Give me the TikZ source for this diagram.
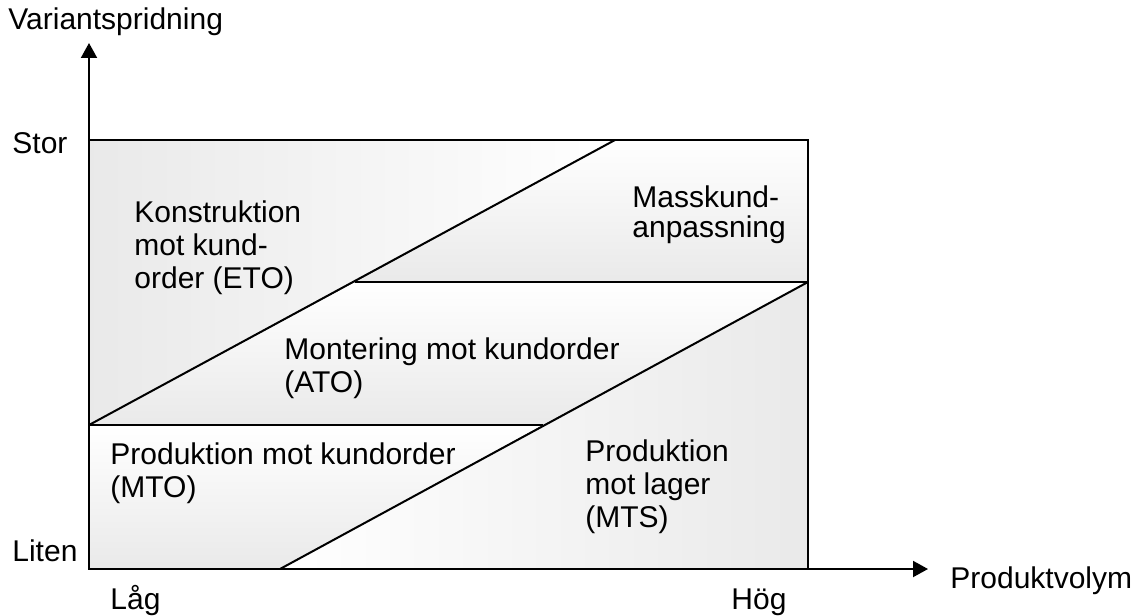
\documentclass[tikz,border=0pt]{standalone}
\usepackage{fontspec}
\setmainfont{Liberation Sans}
\usetikzlibrary{arrows.meta}

\begin{document}
\begin{tikzpicture}[x=0.5pt, y=-0.5pt,
  lbl/.style={anchor=base west, inner sep=0pt, align=left,
    font=\fontsize{15}{16.5}\selectfont},
  vshade/.style={top color=white, bottom color=gray!17},
  hshade/.style={left color=white, right color=gray!17},
  axisline/.style={line width=1pt, -{Triangle[length=7.5pt,width=8pt]}}]
  \useasboundingbox (0,0) rectangle (1133,615);
  % field corners and split points
  \coordinate (tl) at (89,140);  \coordinate (tr) at (808,140);
  \coordinate (bl) at (89,569);  \coordinate (br) at (808,569);
  \coordinate (d1top) at (615,140); \coordinate (d1low) at (89,425);
  \coordinate (h1left) at (355,282); \coordinate (h1right) at (808,282);
  \coordinate (h2right) at (543,425); \coordinate (d2low) at (280,569);
  % zones
  \fill[left color=gray!17, right color=white] (tl) -- (d1top) -- (d1low) -- cycle;
  \fill[vshade] (d1top) -- (tr) -- (h1right) -- (h1left) -- cycle;
  \fill[vshade] (d1low) -- (h1left) -- (h1right) -- (h2right) -- cycle;
  \fill[vshade] (d1low) -- (h2right) -- (d2low) -- (bl) -- cycle;
  \fill[hshade] (d2low) -- (h1right) -- (br) -- cycle;
  \draw[line width=1pt] (d1low) -- (d1top);
  \draw[line width=1pt] (d2low) -- (h1right);
  \draw[line width=1pt] (h1left) -- (h1right);
  \draw[line width=1pt] (d1low) -- (h2right);
  \draw[line width=1.4pt] (tl) rectangle (br);
  % axes
  \coordinate (ytip) at (89,43);
  \coordinate (xtip) at (928,569);
  \draw[axisline] (bl) -- (ytip);
  \draw[axisline] (bl) -- (xtip);
  \node[lbl] (yname) at (8,30) {Variantspridning};
  \node[lbl] (xname) at (950,588) {Produktvolym};
  \node[lbl] (stor) at (12,153) {Stor};
  \node[lbl] (liten) at (12,561) {Liten};
  \node[lbl] (lag) at (110,609) {Låg};
  \node[lbl] (hog) at (731,609) {Hög};
  % zone labels (anchored at the last line)
  \node[lbl] (eto) at (134,288) {Konstruktion\\mot kund-\\order (ETO)};
  \node[lbl, font=\fontsize{15}{15}\selectfont] (mass) at (632,237) {Masskund-\\anpassning};
  \node[lbl] (ato) at (284,392) {Montering mot kundorder\\(ATO)};
  \node[lbl] (mto) at (110,497) {Produktion mot kundorder\\(MTO)};
  \node[lbl] (mts) at (585,527) {Produktion\\mot lager\\(MTS)};
\end{tikzpicture}
\end{document}
